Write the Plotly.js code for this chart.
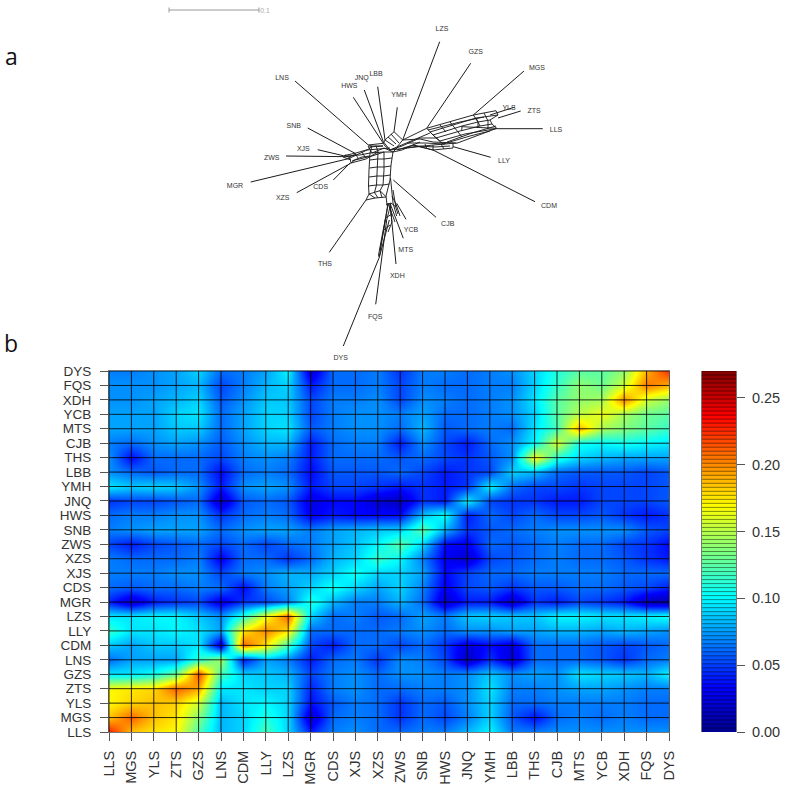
<!DOCTYPE html>
<html><head><meta charset="utf-8">
<script src="https://cdn.plot.ly/plotly-3.0.1.min.js"></script>
<style>html,body{margin:0;padding:0;background:#fff}#chart{width:785px;height:786px}</style>
</head><body><div id="chart"></div>
<script>
const sites=["LLS","MGS","YLS","ZTS","GZS","LNS","CDM","LLY","LZS","MGR","CDS","XJS","XZS","ZWS","SNB","HWS","JNQ","YMH","LBB","THS","CJB","MTS","YCB","XDH","FQS","DYS"];
const zLLS=[.23,.185,.175,.17,.12,.082,.09,.12,.09,.042,.067,.072,.062,.062,.067,.067,.082,.10,.067,.067,.072,.072,.072,.072,.072,.072];
const zMGS=[.185,.21,.185,.175,.135,.082,.09,.11,.09,.017,.062,.067,.062,.047,.062,.052,.067,.09,.057,.037,.062,.067,.062,.067,.062,.062];
const zYLS=[.17,.18,.185,.18,.155,.082,.095,.10,.09,.037,.057,.067,.062,.047,.062,.057,.072,.09,.062,.062,.067,.067,.067,.067,.062,.062];
const zZTS=[.17,.175,.18,.21,.19,.095,.095,.09,.09,.042,.067,.072,.062,.062,.067,.067,.072,.095,.067,.067,.072,.077,.077,.072,.067,.067];
const zGZS=[.095,.095,.105,.13,.215,.12,.09,.087,.082,.052,.067,.072,.062,.072,.072,.067,.072,.087,.072,.077,.072,.095,.09,.087,.082,.10];
const zLNS=[.062,.077,.077,.077,.115,.145,.04,.077,.067,.04,.062,.067,.047,.072,.067,.052,.015,.047,.02,.062,.062,.062,.057,.047,.062,.067];
const zCDM=[.087,.077,.087,.087,.095,.02,.21,.175,.12,.052,.04,.062,.062,.052,.062,.047,.025,.037,.025,.062,.062,.062,.057,.052,.057,.062];
const zLLY=[.115,.095,.095,.10,.095,.077,.175,.2,.175,.062,.062,.062,.062,.067,.072,.062,.072,.072,.077,.077,.082,.082,.077,.082,.077,.072];
const zLZS=[.095,.095,.10,.10,.087,.072,.11,.165,.21,.09,.062,.067,.057,.062,.077,.067,.087,.09,.087,.087,.10,.10,.095,.095,.10,.105];
const zMGR=[.042,.017,.04,.047,.052,.025,.047,.052,.067,.11,.082,.067,.067,.082,.062,.017,.04,.04,.017,.047,.04,.052,.047,.04,.012,.008];
const zCDS=[.062,.057,.062,.062,.067,.062,.035,.067,.077,.09,.105,.09,.077,.09,.067,.03,.052,.057,.047,.057,.057,.062,.062,.057,.052,.04];
const zXJS=[.067,.067,.067,.072,.072,.052,.067,.072,.082,.08,.09,.105,.09,.09,.077,.035,.052,.062,.062,.067,.067,.067,.067,.062,.062,.062];
const zXZS=[.067,.062,.062,.062,.067,.03,.062,.062,.047,.062,.082,.09,.115,.10,.067,.03,.02,.052,.057,.062,.067,.062,.062,.057,.047,.04];
const zZWS=[.052,.04,.052,.057,.062,.052,.062,.052,.062,.067,.077,.085,.10,.125,.09,.035,.03,.062,.057,.062,.067,.062,.062,.052,.047,.035];
const zSNB=[.067,.072,.077,.077,.077,.062,.072,.077,.077,.067,.077,.082,.087,.09,.125,.08,.047,.057,.062,.067,.072,.072,.072,.072,.057,.052];
const zHWS=[.062,.067,.067,.072,.072,.047,.062,.067,.062,.03,.04,.035,.035,.035,.085,.105,.04,.062,.052,.062,.052,.052,.057,.047,.04,.047];
const zJNQ=[.047,.052,.052,.057,.062,.017,.057,.062,.057,.025,.035,.035,.02,.015,.047,.04,.10,.052,.047,.047,.04,.04,.052,.052,.052,.057];
const zYMH=[.095,.087,.09,.087,.072,.04,.072,.077,.072,.04,.052,.052,.047,.04,.047,.04,.047,.10,.062,.052,.052,.047,.052,.052,.052,.057];
const zLBB=[.072,.062,.057,.062,.062,.035,.062,.067,.062,.035,.057,.057,.057,.062,.052,.04,.047,.052,.09,.082,.062,.057,.057,.057,.052,.057];
const zTHS=[.072,.035,.062,.062,.062,.052,.067,.072,.067,.04,.062,.062,.062,.057,.062,.052,.047,.057,.072,.17,.11,.09,.082,.077,.077,.077];
const zCJB=[.067,.062,.072,.077,.072,.057,.072,.082,.082,.04,.062,.067,.067,.04,.072,.052,.04,.062,.072,.10,.16,.105,.10,.105,.10,.095];
const zMTS=[.077,.077,.077,.087,.087,.062,.077,.09,.095,.057,.067,.072,.072,.062,.082,.057,.062,.067,.062,.095,.12,.19,.145,.135,.125,.115];
const zYCB=[.077,.077,.077,.09,.095,.062,.077,.09,.09,.052,.067,.072,.072,.067,.077,.062,.062,.067,.072,.09,.125,.15,.165,.145,.13,.125];
const zXDH=[.072,.072,.077,.082,.09,.057,.072,.087,.087,.052,.067,.067,.072,.052,.072,.067,.062,.067,.072,.095,.125,.14,.145,.20,.155,.14];
const zFQS=[.072,.072,.072,.077,.082,.052,.067,.082,.09,.04,.062,.062,.067,.052,.067,.062,.062,.067,.067,.09,.115,.14,.13,.155,.205,.19];
const zDYS=[.067,.067,.072,.077,.09,.062,.067,.077,.10,.02,.062,.062,.067,.047,.067,.067,.062,.067,.072,.09,.11,.125,.125,.14,.19,.225];
const matrix=[zLLS,zMGS,zYLS,zZTS,zGZS,zLNS,zCDM,zLLY,zLZS,zMGR,zCDS,zXJS,zXZS,zZWS,zSNB,zHWS,zJNQ,zYMH,zLBB,zTHS,zCJB,zMTS,zYCB,zXDH,zFQS,zDYS];
const zMax=0.27;
const colorTicks=[0,0.05,0.10,0.15,0.20,0.25];
const colorTickText=["0.00","0.05","0.10","0.15","0.20","0.25"];
const jet=[[0,"#00008F"],[0.125,"#0000FF"],[0.375,"#00FFFF"],[0.625,"#FFFF00"],[0.875,"#FF0000"],[1,"#800000"]];

const labelNames=["LZS","GZS","MGS","YLS","ZTS","LLS","LLY","CDM","CJB","YCB","MTS","XDH","FQS","DYS","THS","XZS","MGR","CDS","ZWS","XJS","SNB","HWS","JNQ","LBB","YMH","LNS"];
const labelX=[442,475.7,537,509,534,556,504,549,447.7,411,405.7,397.3,375.3,340.7,325,282.7,235,320.7,271.7,303.3,293.7,349.3,361.7,376,399,282];
const labelY=[29.5,52,68,108.7,111,130.7,161,206.7,224,230,250,276.7,317.3,358.3,264.3,198.3,186,187.3,158.3,149.7,126,86,78.3,74,95,78];

const leafEdges=[
[[439.7,41.7],[402.7,140]],[[470.7,63.3],[426.7,128.3]],[[524,71],[473.3,115]],
[[515,107],[490,115]],[[520.7,111],[498,118]],[[542.7,128.7],[496.7,128.7]],
[[490.7,157.3],[453.3,146.7]],[[535,201.7],[433,150]],[[295,81],[368.3,145]],
[[353.3,97.3],[383.3,143.3]],[[364.3,90],[383.3,141.7]],[[377.7,86.7],[385,140]],
[[397.3,107.3],[394,131.7]],[[307.7,128],[355,153.3]],[[317.7,149.7],[343.3,155.7]],
[[286,156],[350,156.7]],[[250.7,182],[350,158.3]],[[296.7,192.7],[350.7,163.3]],
[[333.3,180],[350,163]],[[329.3,252.3],[366,200]],[[436,217.3],[393.3,180]],
[[406,219.3],[396.7,203.3]],[[403.3,238.3],[390,203.3]],[[396,264],[390,203.3]],
[[375.7,304.3],[386.7,220]],[[343.3,346],[379.3,257.3],[389.3,220]]];
const splitEdges=[
// stem verticals
[[372,146],[370,153],[369,170],[368.5,185],[369,194]],
[[378,152],[377,170],[376.5,185],[374.5,192.5]],
[[384,152],[384,170],[383,185],[380,190.7]],
[[393,152],[391,165],[390,180],[386,196],[387,205]],
// stem rungs
[[370,153],[378,152],[384,152],[393,152]],[[370,160],[377.5,159],[384,159],[392,158]],
[[369.5,168],[377,167],[384,167],[391,166]],[[369,177],[377,176],[383.5,176],[390.5,175]],
[[368.5,186],[376.5,185],[383,185],[389.5,184]],
[[366,200],[369,194],[380,190.7],[386,196.7]],[[366,200],[375,198],[386,197]],
[[369,194],[375,198]],[[374.5,192.5],[378,198]],[[380,190.7],[382,197.5]],
// lower strands
[[390.5,178],[393,203],[396.7,216]],[[388,203],[379.3,257]],[[385.5,218],[378.5,255]],
[[391,203],[386.7,220]],[[388,203],[395,222]],[[393,190],[396,208],[398,214]],
[[386,205],[391,203],[396,207]],[[385.5,218],[392,214]],[[384,230],[390,225]],
[[388,205],[383,235],[380,250]],[[390,204],[392,222],[388,232]],[[392,196],[396,204],[400,216]],
[[378.5,255],[379.3,257.3]],
// junction
[[383.3,143.3],[385,140],[394,131.7],[402.7,140],[397,147],[390,150],[385,146],[383.3,143.3]],
[[388,137],[396,144]],[[391,134],[399,143]],[[385,140],[394,146]],[[383.3,141.7],[390,150]],
[[402.7,140],[409,137],[426.7,128.3]],[[397,147],[413,140],[430,133]],
[[390,150],[402,146],[420,138],[436,138]],
[[384,148],[393,152],[402,150],[413,145]],[[393,152],[398,147]],[[372,153],[384,148]],
// central right band
[[390,150],[433,145],[457,143]],[[397,150],[413,145],[433,150],[453,148]],
[[403,140],[420,139],[433,142],[456,143]],[[413,145],[420,142]],[[433,145],[433,150]],
[[425,144],[427,149]],[[441,144],[444,149]],[[453,143],[453,148]],[[413,145],[426,148],[433,150]],
[[404,148],[420,146],[435,147],[450,146]],[[408,143],[425,143],[445,144]],
// right arm
[[426.7,128.3],[473.3,115],[496,110.7]],[[430,132],[476,118],[498,115]],[[433,135],[462,126],[478,122],[490,120]],
[[436,138],[460,131],[480,126],[492,124]],[[440,141],[465,134],[497,128.5]],[[456.7,143.3],[496.7,128.3]],
[[443,144],[470,136],[490,131]],[[461.7,126.7],[496.7,128.3]],[[462,126],[461.7,130.5]],
[[447,142],[472,133],[496,126]],[[428,130],[460,122],[484,117]],
[[473.3,115],[478,122],[478,128]],[[484,113],[488,121],[488,128.5]],[[476,118],[480,126]],
[[426.7,128.3],[433,135]],[[430,132],[436,138]],[[433,135],[440,141]],[[436,138],[443,144]],
[[450,122],[456,130],[462,137]],[[440,125],[446,132]],[[496,110.7],[498,115],[490,120],[492,124],[496.7,128.3]],
// left arm
[[350,158],[367,150],[390,148]],[[343.3,155.7],[355,153.3],[368,149.5],[372,146],[383,146]],
[[350,158.3],[351,163],[366,159],[378,152]],[[351,163],[355,160],[372,156],[384,152]],
[[346,156],[360,155],[370,153]],[[352,161],[362,157],[370,156]],
[[355,153.3],[358,158]],[[362,152],[365,157]],[[368,146],[372,153]],[[376,145.5],[378,152]],
[[368.3,145],[372,146]],[[368.3,145],[383.3,143.3]],[[368.5,147],[383,146]],[[345,155],[350,158]],[[350,156.7],[356,154]],
[[343,157],[351,160]]];
function flatten(edges,idx){const o=[];edges.forEach(e=>{e.forEach(p=>o.push(p[idx]));o.push(null);});return o;}

const gridX=[],gridY=[];
sites.slice(0,25).forEach(s=>{gridX.push(s,s,null);gridY.push(sites[0],sites[25],null);});
sites.slice(1).forEach(s=>{gridX.push(sites[0],sites[25],null);gridY.push(s,s,null);});

const rampLevels=[],rampX=[0,1],rampZ=[];
for(let i=0;i<90;i++){const v=(i+0.5)*zMax/90;rampLevels.push(v);rampZ.push([v,v]);}
const stripeX=[],stripeY=[];
rampLevels.forEach(v=>{stripeX.push(0,1,null);stripeY.push(v+zMax/180,v+zMax/180,null);});

const W=785,H=786;
const traces=[
{type:"heatmap",x:sites,y:sites,z:matrix,zmin:0,zmax:zMax,colorscale:jet,zsmooth:"best",showscale:false,xaxis:"x",yaxis:"y",hoverinfo:"skip"},
{type:"scatter",mode:"lines",x:gridX,y:gridY,xaxis:"x",yaxis:"y",line:{color:"rgba(0,0,0,0.82)",width:1},hoverinfo:"skip",showlegend:false},
{type:"scatter",mode:"lines",x:flatten(leafEdges,0),y:flatten(leafEdges,1),xaxis:"x2",yaxis:"y2",line:{color:"#1c1c1c",width:1},hoverinfo:"skip",showlegend:false},
{type:"scatter",mode:"lines",x:flatten(splitEdges,0),y:flatten(splitEdges,1),xaxis:"x2",yaxis:"y2",line:{color:"#1c1c1c",width:0.95},hoverinfo:"skip",showlegend:false},
{type:"scatter",mode:"text",x:labelX,y:labelY,text:labelNames,textposition:"middle center",textfont:{family:"Liberation Sans",size:7,color:"#333"},xaxis:"x2",yaxis:"y2",hoverinfo:"skip",showlegend:false},
{type:"scatter",mode:"lines",x:[169,169,null,169,259,null,259,259],y:[7.5,12.5,null,10,10,null,7.5,12.5],xaxis:"x2",yaxis:"y2",line:{color:"#999",width:1},hoverinfo:"skip",showlegend:false},
{type:"scatter",mode:"text",x:[265],y:[11.5],text:["0.1"],textfont:{family:"Liberation Sans",size:6.8,color:"#aaa"},xaxis:"x2",yaxis:"y2",hoverinfo:"skip",showlegend:false},
{type:"heatmap",x:rampX,y:rampLevels,z:rampZ,zmin:0,zmax:zMax,colorscale:jet,showscale:false,xaxis:"x3",yaxis:"y3",hoverinfo:"skip"},
{type:"scatter",mode:"lines",x:stripeX,y:stripeY,xaxis:"x3",yaxis:"y3",line:{color:"rgba(0,0,0,0.45)",width:1},hoverinfo:"skip",showlegend:false}
];
const tickFont={family:"Liberation Sans",size:14.5,color:"#333"};
const rowFont={family:"Liberation Sans",size:13.5,color:"#333"};
const layout={
width:W,height:H,margin:{l:0,r:0,t:0,b:0},paper_bgcolor:"#fff",plot_bgcolor:"#fff",showlegend:false,
xaxis:{domain:[109/W,669/W],type:"category",categoryorder:"array",categoryarray:sites,range:[0,25],anchor:"y",tickmode:"array",tickvals:sites,ticktext:sites,tickangle:-90,ticks:"outside",ticklen:8,tickcolor:"#555",tickfont:tickFont,ticklabelstandoff:4,showgrid:false,zeroline:false,showline:true,linecolor:"#777",mirror:true,fixedrange:true},
yaxis:{domain:[1-732/H,1-371/H],type:"category",categoryorder:"array",categoryarray:sites,range:[0,25],anchor:"x",tickmode:"array",tickvals:sites,ticktext:sites,ticks:"outside",ticklen:8,tickcolor:"#555",tickfont:rowFont,ticklabelstandoff:6,showgrid:false,zeroline:false,showline:true,linecolor:"#555",mirror:true,fixedrange:true},
xaxis2:{domain:[0,1],range:[0,W],anchor:"y2",visible:false,fixedrange:true},
yaxis2:{domain:[1-366/H,1],range:[366,0],anchor:"x2",visible:false,fixedrange:true},
xaxis3:{domain:[702/W,736/W],range:[0,1],anchor:"y3",visible:false,fixedrange:true},
yaxis3:{domain:[1-732/H,1-371/H],range:[0,zMax],anchor:"x3",side:"right",tickmode:"array",tickvals:colorTicks,ticktext:colorTickText,ticks:"outside",ticklen:8,tickcolor:"#555",tickfont:tickFont,ticklabelstandoff:4,showgrid:false,zeroline:false,showline:true,linecolor:"#777",mirror:true,fixedrange:true},
annotations:[
{text:"a",xref:"paper",yref:"paper",x:11/W,y:1-56/H,showarrow:false,font:{family:"Open Sans",size:23,color:"#111"},xanchor:"center",yanchor:"middle"},
{text:"b",xref:"paper",yref:"paper",x:11/W,y:1-343/H,showarrow:false,font:{family:"Open Sans",size:23,color:"#111"},xanchor:"center",yanchor:"middle"}
]
};
Plotly.newPlot("chart",traces,layout,{displayModeBar:false,staticPlot:true});
</script></body></html>
